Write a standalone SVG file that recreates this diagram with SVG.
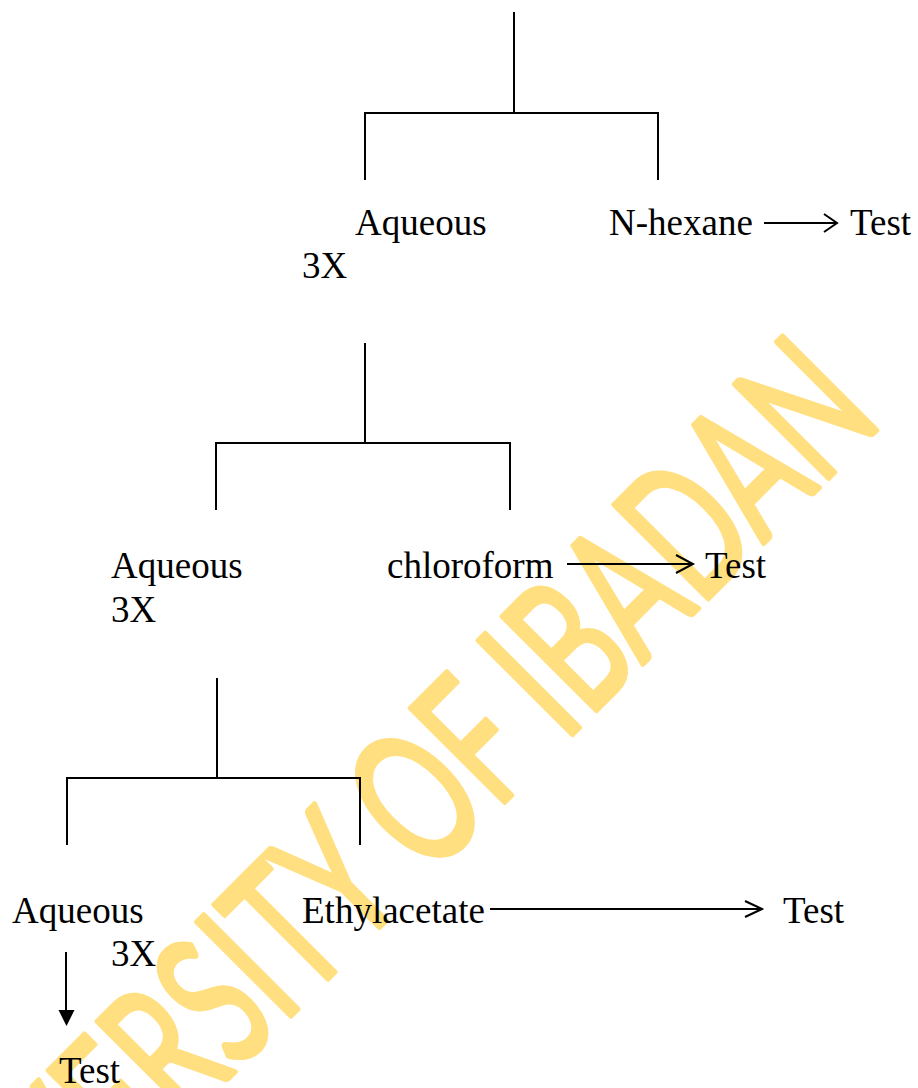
<svg xmlns="http://www.w3.org/2000/svg" width="918" height="1088" viewBox="0 0 918 1088">
  <style>
    .lbl { font-family: "Liberation Serif", "Times New Roman", serif; font-size: 37px; fill: #000; }
    .ln { stroke: #000; stroke-width: 2; fill: none; }
    .wm { font-family: Lato, "Open Sans", sans-serif; font-size: 186px; fill: #FFDF80; stroke: #FFDF80; stroke-width: 5; stroke-linejoin: round; }
  </style>
  <rect width="918" height="1088" fill="#fff"/>
  <g id="watermark">
    <text class="wm" transform="translate(-75,1382) rotate(-45)" textLength="1358" lengthAdjust="spacingAndGlyphs">UNIVERSITY OF IBADAN</text>
  </g>
  <g id="connectors">
    <path class="ln" d="M514,12 V113 M364,113 H659 M365,113 V180 M658,113 V180"/>
    <path class="ln" d="M365,343 V443 M215,443 H511 M216,443 V510 M510,443 V510"/>
    <path class="ln" d="M217,678 V778 M66,778 H361 M67,778 V845 M360,778 V845"/>
    <path class="ln" d="M764,223 H836 M824,214 L837,223 L824,232"/>
    <path class="ln" d="M567,564 H692 M676,555 L693,564 L676,573"/>
    <path class="ln" d="M490,909 H761 M745,901 L762,909 L745,917"/>
    <path class="ln" d="M66,952 V1012"/>
    <path d="M58.5,1010 L74.5,1010 L66.5,1026 Z" fill="#000"/>
  </g>
  <g id="n-aqueous-1"><text class="lbl" x="355" y="235">Aqueous</text><text class="lbl" x="302" y="278">3X</text></g>
  <g id="n-hexane"><text class="lbl" x="609" y="235">N-hexane</text></g>
  <g id="n-test-1"><text class="lbl" x="850" y="235">Test</text></g>
  <g id="n-aqueous-2"><text class="lbl" x="111" y="578">Aqueous</text><text class="lbl" x="111" y="622">3X</text></g>
  <g id="n-chloroform"><text class="lbl" x="387" y="578">chloroform</text></g>
  <g id="n-test-2"><text class="lbl" x="705" y="578">Test</text></g>
  <g id="n-aqueous-3"><text class="lbl" x="12" y="923">Aqueous</text><text class="lbl" x="111" y="966">3X</text></g>
  <g id="n-ethylacetate"><text class="lbl" x="302" y="923">Ethylacetate</text></g>
  <g id="n-test-3"><text class="lbl" x="783" y="923">Test</text></g>
  <g id="n-test-4"><text class="lbl" x="59" y="1083">Test</text></g>
</svg>
